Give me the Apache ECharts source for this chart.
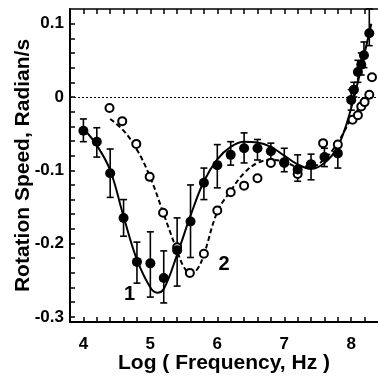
<!DOCTYPE html>
<html><head><meta charset="utf-8">
<script src="https://cdn.jsdelivr.net/npm/echarts@6/dist/echarts.min.js"></script>
<style>html,body{margin:0;padding:0;background:#fff}#c{width:378px;height:376px}</style>
</head><body><div id="c"></div>
<script>
// Fitted curve 1 (solid)
const fit1X = [4.0, 4.2, 4.4, 4.6, 4.8, 5.0, 5.1, 5.2, 5.4, 5.6, 5.8, 6.0, 6.2, 6.4, 6.6, 6.8, 7.0, 7.2, 7.4, 7.6, 7.8, 8.0, 8.2, 8.3];
const fit1Y = [-0.043, -0.066, -0.1, -0.163, -0.222, -0.26, -0.267, -0.262, -0.215, -0.162, -0.115, -0.085, -0.068, -0.061, -0.062, -0.068, -0.08, -0.092, -0.098, -0.09, -0.068, -0.015, 0.06, 0.1];
// Fitted curve 2 (dashed)
const fit2X = [4.4, 4.6, 4.8, 5.0, 5.2, 5.4, 5.5, 5.6, 5.7, 5.8, 6.0, 6.2, 6.4, 6.6, 6.8, 7.0, 7.2, 7.4, 7.6, 7.8, 8.0, 8.2, 8.3];
const fit2Y = [-0.03, -0.046, -0.072, -0.11, -0.16, -0.21, -0.232, -0.241, -0.235, -0.215, -0.157, -0.128, -0.104, -0.09, -0.086, -0.088, -0.095, -0.095, -0.085, -0.062, -0.03, -0.005, 0.008];
// Series 1 (filled circles) with error bars
const s1X  = [4.0, 4.2, 4.4, 4.6, 4.8, 5.0, 5.2, 5.4, 5.6, 5.8, 6.0, 6.2, 6.4, 6.6, 6.8, 7.0, 7.2, 7.4, 7.6, 7.8, 8.0, 8.04, 8.1, 8.15, 8.19, 8.27];
const s1Y  = [-0.046, -0.061, -0.104, -0.165, -0.225, -0.227, -0.247, -0.209, -0.17, -0.117, -0.093, -0.079, -0.07, -0.07, -0.074, -0.089, -0.099, -0.092, -0.082, -0.077, -0.004, 0.01, 0.034, 0.044, 0.057, 0.087];
const s1Lo = [-0.061, -0.082, -0.137, -0.19, -0.254, -0.273, -0.281, -0.258, -0.219, -0.14, -0.124, -0.093, -0.09, -0.086, -0.085, -0.102, -0.115, -0.113, -0.095, -0.097, -0.018, 0.0, 0.02, 0.03, 0.04, 0.07];
const s1Hi = [-0.03, -0.042, -0.071, -0.14, -0.198, -0.184, -0.21, -0.165, -0.12, -0.097, -0.065, -0.061, -0.049, -0.058, -0.063, -0.07, -0.079, -0.078, -0.07, -0.066, 0.01, 0.02, 0.05, 0.06, 0.075, 0.12];
// Series 2 (open circles)
const s2X = [4.39, 4.58, 4.79, 4.99, 5.19, 5.4, 5.59, 5.8, 6.0, 6.2, 6.4, 6.6, 6.8, 7.0, 7.2, 7.4, 7.58, 7.8, 8.02, 8.1, 8.15, 8.2, 8.27, 8.31];
const s2Y = [-0.015, -0.033, -0.064, -0.109, -0.158, -0.205, -0.24, -0.214, -0.155, -0.13, -0.121, -0.111, -0.09, -0.09, -0.105, -0.092, -0.063, -0.065, -0.031, -0.025, -0.013, -0.007, 0.003, 0.027];
// Axis ticks / labels
const xLabels = [4, 5, 6, 7, 8];
const xTicks = [3.8, 4.0, 4.2, 4.4, 4.6, 4.8, 5.0, 5.2, 5.4, 5.6, 5.8, 6.0, 6.2, 6.4, 6.6, 6.8, 7.0, 7.2, 7.4, 7.6, 7.8, 8.0, 8.2];
const yLabels = [-0.3, -0.2, -0.1, 0, 0.1];
const yTicks = [-0.3, -0.28, -0.26, -0.24, -0.22, -0.2, -0.18, -0.16, -0.14, -0.12, -0.1, -0.08, -0.06, -0.04, -0.02, 0, 0.02, 0.04, 0.06, 0.08, 0.1];
const curveLabels = [{ x: 4.69, y: -0.27, t: '1' }, { x: 6.1, y: -0.229, t: '2' }];

const zip = (a, b) => a.map((v, i) => [v, b[i]]);
const FONT = 'Liberation Sans';
const chart = echarts.init(document.getElementById('c'), null, { renderer: 'canvas' });
const axisLine = { show: true, onZero: false, lineStyle: { color: '#000', width: 2 } };
const tick = (vals) => ({ show: true, inside: true, length: 5, customValues: vals, lineStyle: { color: '#000', width: 1.5 } });
chart.setOption({
  animation: false,
  backgroundColor: '#fff',
  grid: { left: 70, right: 0, top: 9, bottom: 54, outerBoundsMode: 'none' },
  xAxis: [{
    type: 'value', min: 3.8, max: 8.4, position: 'bottom',
    axisLine: axisLine, axisTick: tick(xTicks), splitLine: { show: false },
    axisLabel: { customValues: xLabels, margin: 14, fontSize: 17, fontWeight: 'bold', fontFamily: FONT, color: '#000' },
    name: 'Log ( Frequency, Hz )', nameLocation: 'middle', nameGap: 31, nameMoveOverlap: false,
    nameTextStyle: { fontSize: 21, fontWeight: 'bold', fontFamily: FONT, color: '#000' }
  }, {
    type: 'value', min: 3.8, max: 8.4, position: 'top',
    axisLine: { show: true, onZero: false, lineStyle: { color: '#000', width: 1.5 } }, axisTick: tick(xTicks),
    axisLabel: { show: false }, splitLine: { show: false }
  }],
  yAxis: {
    type: 'value', min: -0.307, max: 0.12,
    axisLine: axisLine, axisTick: tick(yTicks), splitLine: { show: false },
    axisLabel: { customValues: yLabels, margin: 6, fontSize: 17, fontWeight: 'bold', fontFamily: FONT, color: '#000',
      formatter: v => String(Math.round(v * 10) / 10) },
    name: 'Rotation Speed, Radian/s', nameLocation: 'middle', nameGap: 36, nameMoveOverlap: false,
    nameTextStyle: { fontSize: 21, fontWeight: 'bold', fontFamily: FONT, color: '#000' }
  },
  series: [
    {
      type: 'line', data: zip(fit1X, fit1Y), smooth: 0.4, showSymbol: false, z: 2,
      lineStyle: { color: '#000', width: 2 },
      markLine: { silent: true, symbol: 'none', label: { show: false },
        lineStyle: { color: '#000', width: 1.2, type: [2, 2] }, data: [{ yAxis: 0 }] }
    },
    {
      type: 'line', data: zip(fit2X, fit2Y), smooth: 0.4, showSymbol: false, z: 2,
      lineStyle: { color: '#000', width: 2, type: [5, 3] }
    },
    {
      type: 'custom', z: 3,
      data: s1X.map((x, i) => [x, s1Lo[i], s1Hi[i]]),
      encode: { x: 0, y: [1, 2] },
      renderItem: (params, api) => {
        const x = api.value(0);
        const p1 = api.coord([x, api.value(2)]);
        const p2 = api.coord([x, api.value(1)]);
        const w = 3.5;
        const st = { stroke: '#000', lineWidth: 1.6 };
        return { type: 'group', children: [
          { type: 'line', shape: { x1: p1[0], y1: p1[1], x2: p2[0], y2: p2[1] }, style: st },
          { type: 'line', shape: { x1: p1[0] - w, y1: p1[1], x2: p1[0] + w, y2: p1[1] }, style: st },
          { type: 'line', shape: { x1: p2[0] - w, y1: p2[1], x2: p2[0] + w, y2: p2[1] }, style: st }
        ] };
      }
    },
    {
      type: 'scatter', data: zip(s2X, s2Y), symbol: 'circle', symbolSize: 8, z: 4,
      itemStyle: { color: '#fff', borderColor: '#000', borderWidth: 2, opacity: 1 }
    },
    {
      type: 'scatter', data: zip(s1X, s1Y), symbol: 'circle', symbolSize: 10, z: 5,
      itemStyle: { color: '#000', opacity: 1 }
    },
    {
      type: 'scatter', symbolSize: 0, z: 6,
      itemStyle: { opacity: 1 },
      data: curveLabels.map(d => ({ value: [d.x, d.y], name: d.t })),
      label: { show: true, position: 'inside', formatter: p => p.name, fontSize: 20, fontWeight: 'bold', fontFamily: FONT, color: '#000', opacity: 1 }
    }
  ]
});
</script></body></html>
